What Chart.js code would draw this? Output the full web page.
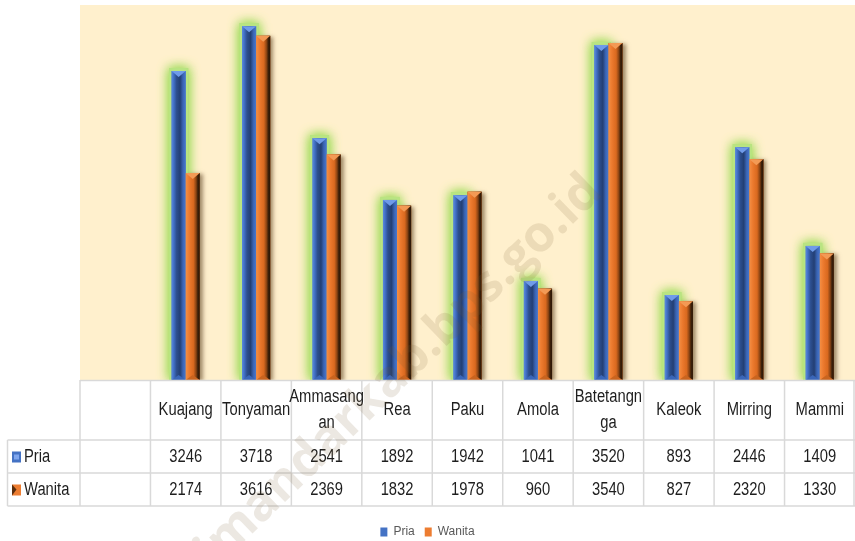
<!DOCTYPE html>
<html><head><meta charset="utf-8">
<script src="https://cdn.jsdelivr.net/npm/chart.js@4/dist/chart.umd.min.js"></script>
<style>html,body{margin:0;padding:0;background:#fff;}#wrap{width:855px;height:541px;position:relative}</style>
</head><body><div id="wrap"><canvas id="c" width="855" height="541"></canvas></div>
<script>
const categories = ['', 'Kuajang', 'Tonyaman', ['Ammasang', 'an'], 'Rea', 'Paku', 'Amola', ['Batetangn', 'ga'], 'Kaleok', 'Mirring', 'Mammi'];
const seriesNames = ['Pria', 'Wanita'];
const pria = [null, 3246, 3718, 2541, 1892, 1942, 1041, 3520, 893, 2446, 1409];
const wanita = [null, 2174, 3616, 2369, 1832, 1978, 960, 3540, 827, 2320, 1330];
const watermark = 'polewalimandarkab.bps.go.id';

const FONT = "'Liberation Sans', Arial, sans-serif";
const BLUE = '#4472C4', ORANGE = '#ED7D31';
const SQUEEZE = 0.82;

function getEl(el){ return el.getProps(['x','y','base','width'], true); }
function squeezedText(ctx, t, x, y, align){
  ctx.save();
  ctx.translate(x, y);
  ctx.scale(SQUEEZE, 1);
  ctx.textAlign = align || 'center';
  ctx.fillText(t, 0, 0);
  ctx.restore();
}

const bgPlugin = {
  id: 'bg',
  beforeDraw(chart){
    const {ctx, chartArea: a} = chart;
    ctx.save(); ctx.fillStyle = '#FFF0CD';
    ctx.fillRect(a.left, a.top, a.right - a.left, a.bottom - a.top);
    ctx.restore();
  }
};

const barFx = {
  id: 'barFx',
  beforeDatasetsDraw(chart){
    const ctx = chart.ctx;
    const a = chart.chartArea;
    ctx.save();
    ctx.beginPath();
    ctx.rect(a.left, a.top - 20, a.right - a.left, a.bottom - a.top + 20);
    ctx.clip();
    chart.getDatasetMeta(0).data.forEach((el, i) => {
      if (chart.data.datasets[0].data[i] == null) return;
      const {x, y, base, width} = getEl(el);
      for (let k = 0; k < 2; k++) {
        ctx.save();
        ctx.shadowColor = 'rgba(160,220,90,1)';
        ctx.shadowBlur = 12;
        ctx.fillStyle = 'rgba(185,228,130,1)';
        ctx.fillRect(x - width/2 - 2.5, y - 3, width + 5, base - y + 3);
        ctx.restore();
      }
    });
    chart.getDatasetMeta(1).data.forEach((el, i) => {
      if (chart.data.datasets[1].data[i] == null) return;
      const {x, y, base, width} = getEl(el);
      ctx.save();
      ctx.shadowColor = 'rgba(70,40,10,0.5)';
      ctx.shadowBlur = 4; ctx.shadowOffsetX = 3; ctx.shadowOffsetY = 1;
      ctx.fillStyle = '#3a220c';
      ctx.fillRect(x - width/2, y, width, base - y);
      ctx.restore();
    });
    ctx.restore();
  },
  afterDatasetsDraw(chart){
    const ctx = chart.ctx;
    [0, 1].forEach(d => {
      chart.getDatasetMeta(d).data.forEach((el, i) => {
        if (chart.data.datasets[d].data[i] == null) return;
        const {x, y, base, width: w} = getEl(el);
        const l = x - w/2, r = x + w/2, h = base - y;
        const g = ctx.createLinearGradient(l, 0, r, 0);
        if (d === 0) {
          g.addColorStop(0, '#5b8ae0'); g.addColorStop(0.18, '#3e6cc0');
          g.addColorStop(0.35, '#2d4f8f'); g.addColorStop(0.6, '#233f74');
          g.addColorStop(0.8, '#3a64b3'); g.addColorStop(1, '#4878cf');
        } else {
          g.addColorStop(0, '#f48f45'); g.addColorStop(0.25, '#ec7a2e');
          g.addColorStop(0.55, '#d9691f'); g.addColorStop(0.74, '#8a4414');
          g.addColorStop(0.86, '#3d2009'); g.addColorStop(1, '#2a1606');
        }
        ctx.save();
        ctx.fillStyle = g;
        ctx.fillRect(l, y, w, h);
        ctx.beginPath();
        ctx.moveTo(l, y); ctx.lineTo(r, y); ctx.lineTo(x, y + Math.min(6, h/2)); ctx.closePath();
        ctx.fillStyle = d === 0 ? '#6f9be9' : '#f39a55';
        ctx.fill();
        ctx.beginPath();
        ctx.moveTo(l, base); ctx.lineTo(r, base); ctx.lineTo(x, base - Math.min(5, h/2)); ctx.closePath();
        ctx.fillStyle = d === 0 ? '#3a66b8' : '#c9641f';
        ctx.fill();
        ctx.restore();
      });
    });
  }
};

const tablePlugin = {
  id: 'dataTable',
  afterDraw(chart){
    const {ctx, chartArea: a} = chart;
    const xs = chart.scales.x;
    const n = categories.length;
    const cw = (a.right - a.left) / n;
    const top = a.bottom, hH = 60, rH = 33;
    const leftEdge = 7.5;
    ctx.save();
    ctx.strokeStyle = '#d9d9d9';
    ctx.lineWidth = 1.5;
    const line = (x1, y1, x2, y2) => { ctx.beginPath(); ctx.moveTo(x1, y1); ctx.lineTo(x2, y2); ctx.stroke(); };
    line(a.left, top + 0.5, a.right, top + 0.5);
    line(leftEdge, top + hH, a.right, top + hH);
    line(leftEdge, top + hH + rH, a.right, top + hH + rH);
    line(leftEdge, top + hH + 2*rH, a.right, top + hH + 2*rH);
    for (let i = 0; i <= n; i++) {
      let x = a.left + i * cw;
      if (i === n) x = a.right - 1;
      line(x, top, x, top + hH + 2*rH);
    }
    line(leftEdge, top + hH, leftEdge, top + hH + 2*rH);

    ctx.fillStyle = '#1e1e1e';
    ctx.font = '18px ' + FONT;
    ctx.textBaseline = 'middle';
    categories.forEach((c, i) => {
      const cx = xs.getPixelForValue(i);
      const lines = Array.isArray(c) ? c : [c];
      const lh = 26;
      const y0 = top + hH/2 - (lines.length - 1) * lh / 2;
      lines.forEach((t, k) => squeezedText(ctx, t, cx, y0 + k * lh, 'center'));
    });
    const rows = [pria, wanita];
    const colors = [BLUE, ORANGE];
    rows.forEach((vals, r) => {
      const cy = top + hH + rH * r + rH / 2;
      ctx.fillStyle = '#1e1e1e';
      vals.forEach((v, i) => {
        if (v == null) return;
        squeezedText(ctx, String(v), xs.getPixelForValue(i), cy + 1, 'center');
      });
      ctx.fillStyle = colors[r];
      ctx.fillRect(12, cy - 5, 9, 11);
      ctx.fillStyle = r === 0 ? '#7fa6ee' : '#5a2e0e';
      if (r === 0) { ctx.fillRect(14, cy - 2, 5, 5); }
      else { ctx.beginPath(); ctx.moveTo(12, cy - 5); ctx.lineTo(16.5, cy); ctx.lineTo(12, cy + 6); ctx.closePath(); ctx.fill(); }
      ctx.fillStyle = '#1e1e1e';
      squeezedText(ctx, seriesNames[r], 24, cy + 1, 'left');
    });
    ctx.restore();
  }
};

const watermarkPlugin = {
  id: 'wm',
  afterDraw(chart){
    const ctx = chart.ctx;
    ctx.save();
    ctx.translate(604, 194);
    ctx.rotate(-44 * Math.PI / 180);
    ctx.font = "bold 50px 'Open Sans', 'Liberation Sans', sans-serif";
    ctx.textAlign = 'right';
    ctx.textBaseline = 'alphabetic';
    ctx.fillStyle = 'rgba(120,95,50,0.14)';
    ctx.fillText(watermark, 0, 0);
    ctx.restore();
  }
};

new Chart(document.getElementById('c'), {
  type: 'bar',
  data: {
    labels: categories,
    datasets: [
      { label: seriesNames[0], data: pria, backgroundColor: BLUE, borderWidth: 0 },
      { label: seriesNames[1], data: wanita, backgroundColor: ORANGE, borderWidth: 0 }
    ]
  },
  options: {
    responsive: false,
    animation: false,
    devicePixelRatio: 1,
    layout: { padding: { left: 0, top: 5, right: 0, bottom: -7 } },
    datasets: { bar: { categoryPercentage: 0.4, barPercentage: 1.0 } },
    scales: {
      x: {
        grid: { display: false }, border: { display: false },
        ticks: { display: false },
        afterFit(axis){ axis.height = 136; }
      },
      y: {
        display: true, min: 0, max: 3940,
        grid: { display: false }, border: { display: false },
        ticks: { display: false },
        afterFit(axis){ axis.width = 80; }
      }
    },
    plugins: {
      legend: {
        position: 'bottom',
        labels: { boxWidth: 7, boxHeight: 9, padding: 10, color: '#595959', font: { size: 12, family: FONT } }
      },
      tooltip: { enabled: false }
    }
  },
  plugins: [bgPlugin, barFx, tablePlugin, watermarkPlugin]
});
</script></body></html>
